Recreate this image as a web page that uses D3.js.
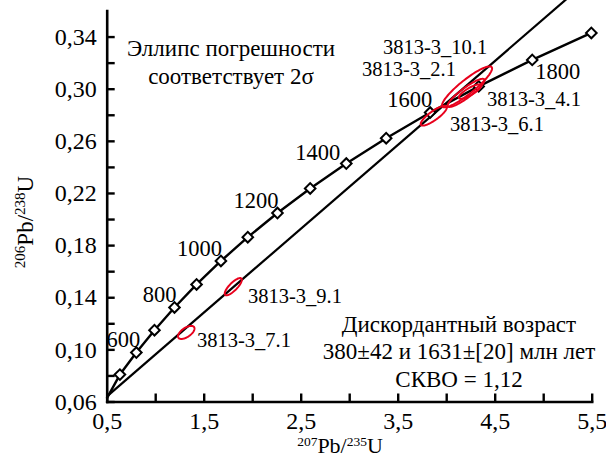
<!DOCTYPE html>
<html><head><meta charset="utf-8">
<script src="https://cdn.jsdelivr.net/npm/d3@7"></script>
<style>
body{margin:0;background:#fff}
text{font-family:"Liberation Serif","Times New Roman",serif;fill:#000}
</style>
</head><body>
<svg id="chart" width="606" height="470"></svg>
<script>
// ---------- data ----------
const concordiaAges = [500,600,700,800,900,1000,1100,1200,1300,1400,1500,1600,1700,1800,1900];
const concordiaX = [0.6362,0.8056,0.9925,1.1988,1.4264,1.6774,1.9545,2.2603,2.5977,2.9701,3.3810,3.8344,4.3348,4.8869,5.4962];
const concordiaY = [0.08065,0.09754,0.11470,0.13213,0.14983,0.16781,0.18607,0.20461,0.22344,0.24257,0.26200,0.28173,0.30176,0.32211,0.34278];
const concordiaStart = [0.5, 0.0622];
const ageLabels = [600,800,1000,1200,1400,1600,1800];

const discordiaX = [0.5, 5.25];
const discordiaY = [0.0637, 0.3694];

const sampleNames = ["3813-3_7.1","3813-3_9.1","3813-3_6.1","3813-3_2.1","3813-3_4.1","3813-3_10.1"];
const sampleX   = [1.320, 1.805, 3.872, 4.205, 4.245, 4.215];
const sampleY   = [0.1130, 0.1481, 0.2793, 0.2968, 0.2978, 0.3014];
const sample2sX = [0.085, 0.088, 0.135, 0.190, 0.115, 0.258];
const sample2sY = [0.0050, 0.0066, 0.0076, 0.0108, 0.0055, 0.0157];
const sampleRho = [0.60, 0.80, 0.84, 0.90, 0.82, 0.90];

const xTicks = [0.5,1.0,1.5,2.0,2.5,3.0,3.5,4.0,4.5,5.0,5.5];
const xTickLabels = ["0,5","","1,5","","2,5","","3,5","","4,5","","5,5"];
const yTicks = [0.06,0.08,0.10,0.12,0.14,0.16,0.18,0.20,0.22,0.24,0.26,0.28,0.30,0.32,0.34];
const yTickLabels = ["0,06","","0,10","","0,14","","0,18","","0,22","","0,26","","0,30","","0,34"];

const noteTopLines = ["Эллипс погрешности","соответствует 2σ"];
const noteBottomLines = ["Дискордантный возраст","380±42 и 1631±[20] млн лет","СКВО = 1,12"];

// ---------- layout ----------
const svg = d3.select("#chart");
const x = d3.scaleLinear().domain([0.5,5.5]).range([106.7,591.7]);
const y = d3.scaleLinear().domain([0.06,0.36]).range([401.5,10.5]);

// discordia
svg.append("path")
  .datum(discordiaX.map((v,i)=>[v,discordiaY[i]]))
  .attr("d", d3.line().x(d=>x(d[0])).y(d=>y(d[1])))
  .attr("fill","none").attr("stroke","#000").attr("stroke-width",2.2);

// concordia
const conc = [concordiaStart].concat(concordiaX.map((v,i)=>[v,concordiaY[i]]));
svg.append("path")
  .datum(conc)
  .attr("d", d3.line().x(d=>x(d[0])).y(d=>y(d[1])))
  .attr("fill","none").attr("stroke","#000").attr("stroke-width",2.4)
  .attr("stroke-linejoin","round");

// markers
const sym = d3.symbol().type(d3.symbolSquare).size(56);
svg.append("g").selectAll("path")
  .data(concordiaX.map((v,i)=>[v,concordiaY[i]]))
  .join("path")
  .attr("d", sym)
  .attr("transform", d=>`translate(${x(d[0])},${y(d[1])}) rotate(45)`)
  .attr("fill","#fff").attr("stroke","#000").attr("stroke-width",2);

// ellipses
const thetas = d3.range(0, 361, 4).map(a=>a*Math.PI/180);
const ellLine = d3.line().x(d=>x(d[0])).y(d=>y(d[1])).curve(d3.curveLinearClosed);
svg.append("g").selectAll("path")
  .data(sampleNames.map((n,i)=>i))
  .join("path")
  .attr("d", i=>{
    const r = sampleRho[i], s = Math.sqrt(1-r*r);
    return ellLine(thetas.map(t=>[
      sampleX[i] + sample2sX[i]*Math.cos(t),
      sampleY[i] + sample2sY[i]*(r*Math.cos(t) + s*Math.sin(t))
    ]));
  })
  .attr("fill","none").attr("stroke","#e8001c").attr("stroke-width",2);

// axes
const fmtX = d=>xTickLabels[xTicks.indexOf(d)];
const fmtY = d=>yTickLabels[yTicks.indexOf(d)];
const gx = svg.append("g").attr("transform",`translate(0,${y(0.06)})`)
  .call(d3.axisBottom(x).tickValues(xTicks).tickFormat(fmtX).tickSize(-8).tickSizeOuter(0).tickPadding(10));
const gy = svg.append("g").attr("transform",`translate(${x(0.5)},0)`)
  .call(d3.axisLeft(y).tickValues(yTicks).tickFormat(fmtY).tickSize(-8).tickSizeOuter(0).tickPadding(10));
[gx,gy].forEach(g=>{
  g.selectAll("path.domain").attr("stroke","#000").attr("stroke-width",2.6).attr("stroke-linecap","square");
  g.selectAll(".tick line").attr("stroke","#000").attr("stroke-width",2.4);
  g.selectAll(".tick text").attr("font-family","Liberation Serif").attr("font-size",24).attr("fill","#000");
});

// axis titles
const xt = svg.append("text").attr("x",340).attr("y",453).attr("text-anchor","middle").attr("font-size",22);
xt.append("tspan").attr("font-size",13.5).attr("dy",-7.5).text("207");
xt.append("tspan").attr("dy",7.5).text("Pb/");
xt.append("tspan").attr("font-size",13.5).attr("dy",-7.5).text("235");
xt.append("tspan").attr("dy",7.5).text("U");

const yt = svg.append("text").attr("transform","translate(33,222) rotate(-90)").attr("text-anchor","middle").attr("font-size",23);
yt.append("tspan").attr("font-size",15).attr("dy",-8).text("206");
yt.append("tspan").attr("dy",8).text("Pb/");
yt.append("tspan").attr("font-size",15).attr("dy",-8).text("238");
yt.append("tspan").attr("dy",8).text("U");

// age labels
const ageOffsets = {600:[4,-6,"end"],800:[2,-5,"end"],1000:[1,-5,"end"],1200:[1,-5,"end"],1400:[-6,-4,"end"],1600:[2,-6,"end"],1800:[3,19,"start"]};
svg.append("g").selectAll("text")
  .data(ageLabels)
  .join("text")
  .attr("x", a=>x(concordiaX[concordiaAges.indexOf(a)])+ageOffsets[a][0])
  .attr("y", a=>y(concordiaY[concordiaAges.indexOf(a)])+ageOffsets[a][1])
  .attr("text-anchor", a=>ageOffsets[a][2])
  .attr("font-size",22.5)
  .text(a=>a);

// sample labels
const sampleLabelPos = {
  "3813-3_7.1":[197,347],"3813-3_9.1":[248,303],"3813-3_6.1":[450,131],
  "3813-3_2.1":[362,76],"3813-3_4.1":[487,106],"3813-3_10.1":[383,54]
};
svg.append("g").selectAll("text")
  .data(sampleNames)
  .join("text")
  .attr("x", n=>sampleLabelPos[n][0]).attr("y", n=>sampleLabelPos[n][1])
  .attr("font-size",20.5)
  .text(n=>n);

// notes
svg.append("g").selectAll("text").data(noteTopLines).join("text")
  .attr("x",231).attr("y",(d,i)=>56+i*27.5).attr("text-anchor","middle").attr("font-size",23).text(d=>d);
svg.append("g").selectAll("text").data(noteBottomLines).join("text")
  .attr("x",459).attr("y",(d,i)=>331.5+i*27.5).attr("text-anchor","middle").attr("font-size",23).text(d=>d);
</script>
</body></html>
